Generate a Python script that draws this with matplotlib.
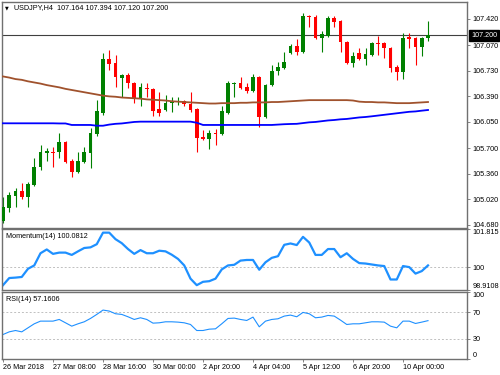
import numpy as np
import matplotlib
matplotlib.use("Agg")
import matplotlib.pyplot as plt

plt.rcParams['font.family'] = ['Liberation Sans', 'DejaVu Sans']

# USDJPY H4 candles
opens = [104.733, 104.906, 105.066, 105.132, 105.052, 105.212, 105.451, 105.637, 105.651, 105.651,
         105.784, 105.531, 105.385, 105.518, 105.637, 105.890, 106.169, 106.887, 106.834, 106.635,
         106.675, 106.568, 106.369, 106.502, 106.489, 106.223, 106.209, 106.302, 106.316, 106.329,
         106.289, 106.223, 105.850, 105.824, 105.903, 105.890, 106.169, 106.555, 106.568, 106.515,
         106.462, 106.648, 106.116, 106.542, 106.728, 106.768, 106.967, 107.060, 106.981, 107.459,
         107.446, 107.167, 107.193, 107.433, 107.393, 107.114, 106.834, 106.967, 106.887, 106.941,
         107.100, 107.100, 107.034, 106.781, 106.715, 107.180, 107.167, 107.047, 107.164]
highs = [105.052, 105.119, 105.172, 105.239, 105.252, 105.571, 105.744, 105.704, 105.717, 105.903,
         105.797, 105.558, 105.651, 105.717, 105.970, 106.342, 106.967, 107.007, 106.941, 106.688,
         106.701, 106.582, 106.568, 106.568, 106.502, 106.449, 106.409, 106.382, 106.382, 106.342,
         106.449, 106.236, 105.943, 105.943, 105.957, 106.262, 106.595, 106.582, 106.648, 106.568,
         106.688, 106.661, 106.555, 106.808, 106.848, 106.981, 107.087, 107.153, 107.499, 107.473,
         107.473, 107.260, 107.459, 107.459, 107.406, 107.127, 106.981, 107.034, 107.034, 107.114,
         107.193, 107.114, 107.047, 106.808, 107.233, 107.233, 107.180, 107.180, 107.394]
lows = [104.707, 104.853, 104.919, 105.026, 104.919, 105.199, 105.411, 105.531, 105.451, 105.571,
        105.504, 105.318, 105.371, 105.504, 105.438, 105.864, 106.143, 106.741, 106.515, 106.382,
        106.502, 106.302, 106.262, 106.382, 106.130, 106.130, 106.196, 106.183, 106.276, 106.262,
        106.183, 105.651, 105.810, 105.691, 105.744, 105.877, 106.156, 106.382, 106.489, 106.435,
        106.449, 105.983, 106.103, 106.528, 106.675, 106.754, 106.954, 106.941, 106.967, 107.313,
        107.153, 106.981, 107.180, 107.313, 106.981, 106.821, 106.781, 106.874, 106.808, 106.927,
        106.941, 106.901, 106.715, 106.608, 106.621, 107.034, 106.808, 106.927, 107.120]
closes = [104.919, 105.079, 105.132, 105.052, 105.225, 105.451, 105.651, 105.664, 105.637, 105.784,
          105.518, 105.385, 105.531, 105.651, 105.903, 106.196, 106.887, 106.821, 106.648, 106.675,
          106.568, 106.369, 106.515, 106.489, 106.196, 106.169, 106.302, 106.316, 106.329, 106.289,
          106.209, 105.837, 105.824, 105.903, 105.890, 106.196, 106.568, 106.568, 106.502, 106.462,
          106.648, 106.116, 106.542, 106.728, 106.781, 106.848, 107.060, 106.981, 107.459, 107.446,
          107.167, 107.220, 107.433, 107.380, 107.114, 106.834, 106.927, 106.887, 106.954, 107.100,
          107.087, 107.034, 106.768, 106.715, 107.167, 107.153, 107.047, 107.167, 107.200]

ma100 = [106.655, 106.64, 106.62, 106.61, 106.59, 106.575, 106.56, 106.54, 106.525, 106.51,
         106.49, 106.475, 106.46, 106.445, 106.43, 106.415, 106.40, 106.39, 106.385, 106.375,
         106.37, 106.365, 106.36, 106.35, 106.345, 106.34, 106.335, 106.325, 106.32, 106.315,
         106.31, 106.305, 106.30, 106.295, 106.295, 106.30, 106.30, 106.30, 106.305, 106.305,
         106.31, 106.31, 106.31, 106.315, 106.315, 106.32, 106.325, 106.33, 106.335, 106.34,
         106.34, 106.34, 106.34, 106.34, 106.34, 106.34, 106.335, 106.32, 106.315, 106.315,
         106.31, 106.31, 106.305, 106.30, 106.30, 106.30, 106.305, 106.31, 106.315]
ma200 = [106.032, 106.032, 106.032, 106.032, 106.032, 106.032, 106.032, 106.032, 106.032, 106.03,
         106.03, 106.01, 106.01, 106.01, 106.01, 106.00, 106.00, 106.015, 106.025, 106.03,
         106.04, 106.05, 106.054, 106.054, 106.054, 106.054, 106.054, 106.054, 106.054, 106.054,
         106.054, 106.04, 106.01, 106.01, 106.01, 106.01, 106.01, 106.01, 106.01, 106.01,
         106.01, 106.01, 106.01, 106.01, 106.015, 106.02, 106.023, 106.025, 106.035, 106.045,
         106.05, 106.06, 106.07, 106.076, 106.085, 106.09, 106.10, 106.11, 106.116, 106.125,
         106.135, 106.145, 106.155, 106.165, 106.175, 106.185, 106.19, 106.20, 106.209]

momentum = [99.14, 99.48, 99.50, 99.53, 99.92, 100.08, 100.66, 100.84, 100.63, 100.69,
            100.69, 100.58, 100.75, 100.91, 100.94, 101.09, 101.64, 101.64, 101.33, 101.14,
            100.86, 100.63, 100.81, 100.66, 100.66, 100.78, 100.75, 100.59, 100.39, 100.08,
            99.45, 99.14, 99.30, 99.33, 99.45, 99.89, 100.08, 100.11, 100.31, 100.34,
            100.34, 99.875, 100.23, 100.44, 100.52, 101.06, 101.125, 101.05, 101.44, 101.17,
            100.58, 100.58, 100.86, 100.86, 100.47, 100.66, 100.39, 100.19, 100.17, 100.125,
            100.08, 100.05, 99.41, 99.41, 100.05, 100.0, 99.69, 99.81, 100.08]
rsi = [36.5, 40.5, 42.5, 40.5, 46.5, 52.5, 56.5, 56.5, 56.5, 59,
       54, 49, 52.5, 55.5, 60.5, 66.5, 73, 71.5, 67.5, 66.5,
       63, 59, 61.5, 59, 53.5, 54, 55.5, 55.5, 55, 54,
       51.5, 42.5, 42.5, 44.5, 45, 52.5, 60.5, 61, 59, 57.5,
       62.5, 48, 56.5, 59, 60, 64, 65.5, 63, 69.5, 67.5,
       61.5, 62.5, 65, 64, 58, 51.5, 52.5, 52.5, 54, 55.5,
       55.5, 55, 49, 46.5, 56.5, 56.5, 53, 55, 57.2]

price_ticks = [104.680, 105.020, 105.360, 105.700, 106.050, 106.390, 106.730, 107.070, 107.420]
time_tick_bars = [0, 8, 16, 24, 32, 40, 48, 56, 64]
time_labels = ['26 Mar 2018', '27 Mar 08:00', '28 Mar 16:00', '30 Mar 00:00', '2 Apr 20:00',
               '4 Apr 04:00', '5 Apr 12:00', '6 Apr 20:00', '10 Apr 00:00']
last_price = 107.200

FS = 5.2
FRAME = '#707070'
LEVEL = '#c0c0c0'

fig = plt.figure(figsize=(5, 3.75), dpi=100)
ax = fig.add_axes([0.004, 0.392, 0.93, 0.6027])
ax_m = fig.add_axes([0.004, 0.2267, 0.93, 0.1627])
ax_r = fig.add_axes([0.004, 0.0427, 0.93, 0.1787])

x = np.arange(len(closes))
o, h, l, c = map(np.array, (opens, highs, lows, closes))
col = np.where(c >= o, '#008000', '#ff0000')

# price panel
ax.axhline(last_price, color='#404040', lw=0.8, zorder=1)
ax.vlines(x, l, h, colors=col, lw=0.8, zorder=2)
ax.bar(x, np.maximum(np.abs(c - o), 0.012), bottom=np.minimum(o, c), width=0.62,
       color=col, linewidth=0, zorder=3)
ax.plot(x, ma100, color='#a0522d', lw=1.3, zorder=4)
ax.plot(x, ma200, color='#0000ff', lw=1.3, zorder=4)
ax.set_ylim(104.640, 107.645)
ax.set_yticks(price_ticks)
ax.set_yticklabels([f'{v:.3f}' for v in price_ticks])
ax.annotate(f'{last_price:.3f}', xy=(1, last_price), xycoords=('axes fraction', 'data'),
            xytext=(3, 0), textcoords='offset points', ha='left', va='center',
            fontsize=FS, color='white', annotation_clip=False,
            bbox=dict(boxstyle='square,pad=0.25', fc='black', ec='black'))

# momentum panel
ax_m.axhline(100, color=LEVEL, lw=0.7, ls=(0, (2, 2)))
ax_m.plot(x, momentum, color='#1e90ff', lw=1.6)
ax_m.set_ylim(98.9108, 101.815)
ax_m.set_yticks([98.9108, 100, 101.815])
ax_m.set_yticklabels(['98.9108', '100', '101.815'])
ax_m.text(0.009, 0.87, 'Momentum(14) 100.0812', transform=ax_m.transAxes,
          fontsize=FS, va='center', ha='left')

# RSI panel
for lvl in (30, 70):
    ax_r.axhline(lvl, color=LEVEL, lw=0.7, ls=(0, (2, 2)))
ax_r.plot(x, rsi, color='#1e90ff', lw=0.8)
ax_r.set_ylim(0, 100)
ax_r.set_yticks([0, 30, 70, 100])
ax_r.set_yticklabels(['0', '30', '70', '100'])
ax_r.text(0.009, 0.89, 'RSI(14) 57.1606', transform=ax_r.transAxes,
          fontsize=FS, va='center', ha='left')

for a in (ax, ax_m, ax_r):
    a.set_xlim(-0.16, 74.24)
    a.yaxis.tick_right()
    a.tick_params(axis='y', length=2.2, width=0.6, color=FRAME, pad=1.6, labelsize=FS)
    a.tick_params(axis='x', bottom=False, labelbottom=False)
    for s in a.spines.values():
        s.set_color(FRAME)
        s.set_linewidth(1.0)

# keep edge labels inside their panels, like the terminal does
for a in (ax_m, ax_r):
    labs = a.get_yticklabels()
    labs[0].set_va('bottom')
    labs[-1].set_va('top')

ax_r.set_xticks(time_tick_bars)
ax_r.set_xticklabels(time_labels)
ax_r.tick_params(axis='x', bottom=True, labelbottom=True, length=2.5, width=0.6,
                 color=FRAME, pad=1.2, labelsize=FS)
for lab in ax_r.get_xticklabels():
    lab.set_ha('left')

fig.text(5 / 500, 1 - 8 / 375, '\u25bc', fontsize=3.5, va='center', ha='left',
         family='DejaVu Sans')
fig.text(14 / 500, 1 - 8 / 375, 'USDJPY,H4  107.164 107.394 107.120 107.200',
         fontsize=FS, va='center', ha='left')

fig.savefig('out.png', dpi=100)
